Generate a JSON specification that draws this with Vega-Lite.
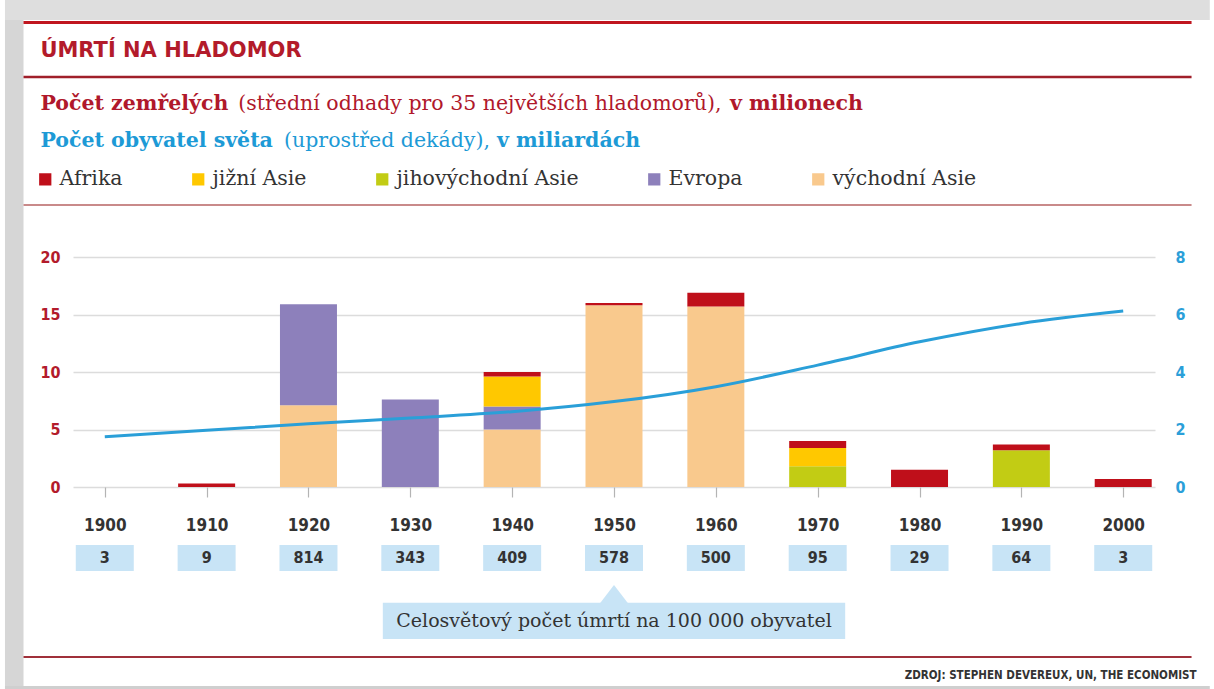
{
  "$schema": "https://vega.github.io/schema/vega-lite/v6.json",
  "width": 1082,
  "height": 230,
  "autosize": {"type": "none"},
  "padding": {"left": 73, "top": 257, "right": 59, "bottom": 202},
  "background": "#ffffff",
  "config": {"view": {"stroke": null}},
  "datasets": {
    "deaths": [
      {"year": 1910, "region": "Afrika", "deaths": 0.3},
      {"year": 1920, "region": "východní Asie", "deaths": 7.1},
      {"year": 1920, "region": "Evropa", "deaths": 8.8},
      {"year": 1930, "region": "Evropa", "deaths": 7.6},
      {"year": 1940, "region": "východní Asie", "deaths": 5.0},
      {"year": 1940, "region": "Evropa", "deaths": 2.0},
      {"year": 1940, "region": "jižní Asie", "deaths": 2.6},
      {"year": 1940, "region": "Afrika", "deaths": 0.4},
      {"year": 1950, "region": "východní Asie", "deaths": 15.8},
      {"year": 1950, "region": "Afrika", "deaths": 0.2},
      {"year": 1960, "region": "východní Asie", "deaths": 15.7},
      {"year": 1960, "region": "Afrika", "deaths": 1.2},
      {"year": 1970, "region": "jihovýchodní Asie", "deaths": 1.8},
      {"year": 1970, "region": "jižní Asie", "deaths": 1.6},
      {"year": 1970, "region": "Afrika", "deaths": 0.6},
      {"year": 1980, "region": "Afrika", "deaths": 1.5},
      {"year": 1990, "region": "jihovýchodní Asie", "deaths": 3.2},
      {"year": 1990, "region": "Afrika", "deaths": 0.5},
      {"year": 2000, "region": "Afrika", "deaths": 0.7}
    ],
    "population": [
      {"year": 1900, "population": 1.75},
      {"year": 1910, "population": 1.97},
      {"year": 1920, "population": 2.2},
      {"year": 1930, "population": 2.4},
      {"year": 1940, "population": 2.62},
      {"year": 1950, "population": 2.97},
      {"year": 1960, "population": 3.49},
      {"year": 1970, "population": 4.24},
      {"year": 1980, "population": 5.05},
      {"year": 1990, "population": 5.69},
      {"year": 2000, "population": 6.12}
    ],
    "rate": [
      {"year": 1900, "rate": 3},
      {"year": 1910, "rate": 9},
      {"year": 1920, "rate": 814},
      {"year": 1930, "rate": 343},
      {"year": 1940, "rate": 409},
      {"year": 1950, "rate": 578},
      {"year": 1960, "rate": 500},
      {"year": 1970, "rate": 95},
      {"year": 1980, "rate": 29},
      {"year": 1990, "rate": 64},
      {"year": 2000, "rate": 3}
    ],
    "one": [{}]
  },
  "layer": [
    {
      "layer": [
        {
          "data": {"name": "one"},
          "mark": {"type": "rect", "color": "#d6d6d6"},
          "encoding": {
            "x": {
              "datum": 1890.2, "type": "quantitative",
              "scale": {"domain": [1897.37, 2002.63], "nice": false, "zero": false},
              "axis": {
                "values": [1900, 1910, 1920, 1930, 1940, 1950, 1960, 1970, 1980, 1990, 2000],
                "format": "d", "title": null, "domain": false, "grid": false,
                "ticks": true, "tickSize": 10, "tickColor": "#b4b4b4", "tickWidth": 1.2,
                "labelFont": "DejaVu Sans Condensed, Liberation Sans Narrow, DejaVu Sans, sans-serif",
                "labelFontSize": 17, "labelFontWeight": "bold", "labelColor": "#333333",
                "labelPadding": 20, "labelFlush": false, "labelOverlap": false
              }
            },
            "x2": {"datum": 1892.02},
            "y": {
              "datum": 42.4, "type": "quantitative",
              "scale": {"domain": [0, 20], "nice": false},
              "axis": {
                "values": [0, 5, 10, 15, 20], "title": null, "domain": false, "ticks": false,
                "grid": true, "gridColor": "#dcdcdc", "gridWidth": 1.5,
                "labelFont": "DejaVu Sans Condensed, Liberation Sans Narrow, DejaVu Sans, sans-serif",
                "labelFontSize": 16, "labelFontWeight": "bold", "labelColor": "#b31b2b", "labelPadding": 13
              }
            },
            "y2": {"datum": -17.6}
          }
        },
        {
          "data": {"name": "one"},
          "mark": {"type": "rect", "color": "#dedede"},
          "encoding": {
            "x": {"datum": 1890.2, "type": "quantitative"},
            "x2": {"datum": 2008.5},
            "y": {"datum": 42.4, "type": "quantitative"},
            "y2": {"datum": 40.6}
          }
        },
        {
          "data": {"name": "one"},
          "mark": {"type": "rect", "color": "#cfcfcf"},
          "encoding": {
            "x": {"datum": 1890.2, "type": "quantitative"},
            "x2": {"datum": 2008.5},
            "y": {"datum": -17.3, "type": "quantitative"},
            "y2": {"datum": -17.6}
          }
        },
        {
          "data": {"name": "one"},
          "mark": {"type": "rule", "color": "#c0161f", "strokeWidth": 3},
          "encoding": {"x": {"datum": 1892.02, "type": "quantitative"}, "x2": {"datum": 2006.71}, "y": {"datum": 40.39, "type": "quantitative"}}
        },
        {
          "data": {"name": "one"},
          "mark": {"type": "rule", "color": "#a01f2a", "strokeWidth": 2.5},
          "encoding": {"x": {"datum": 1892.02, "type": "quantitative"}, "x2": {"datum": 2006.71}, "y": {"datum": 35.65, "type": "quantitative"}}
        },
        {
          "data": {"name": "one"},
          "mark": {"type": "rule", "color": "#c98a8a", "strokeWidth": 2},
          "encoding": {"x": {"datum": 1892.02, "type": "quantitative"}, "x2": {"datum": 2006.71}, "y": {"datum": 24.52, "type": "quantitative"}}
        },
        {
          "data": {"name": "one"},
          "mark": {"type": "rule", "color": "#a0303a", "strokeWidth": 2},
          "encoding": {"x": {"datum": 1892.02, "type": "quantitative"}, "x2": {"datum": 2006.71}, "y": {"datum": -14.78, "type": "quantitative"}}
        },
        {
          "data": {"name": "one"},
          "mark": {"type": "text", "align": "left", "baseline": "alphabetic", "font": "DejaVu Sans", "fontSize": 21, "fontWeight": "bold", "color": "#b31b2b"},
          "encoding": {"x": {"datum": 1893.68, "type": "quantitative"}, "y": {"datum": 37.39, "type": "quantitative"}, "text": {"value": "ÚMRTÍ NA HLADOMOR"}}
        },
        {
          "data": {"name": "one"},
          "mark": {"type": "text", "align": "left", "baseline": "alphabetic", "font": "DejaVu Serif", "fontSize": 20.5, "fontWeight": "bold", "color": "#b0182b"},
          "encoding": {"x": {"datum": 1893.68, "type": "quantitative"}, "y": {"datum": 32.78, "type": "quantitative"}, "text": {"value": "Počet zemřelých"}}
        },
        {
          "data": {"name": "one"},
          "mark": {"type": "text", "align": "left", "baseline": "alphabetic", "font": "DejaVu Serif", "fontSize": 20.5, "color": "#b0182b"},
          "encoding": {"x": {"datum": 1913.1, "type": "quantitative"}, "y": {"datum": 32.78, "type": "quantitative"}, "text": {"value": "(střední odhady pro 35 největších hladomorů),"}}
        },
        {
          "data": {"name": "one"},
          "mark": {"type": "text", "align": "left", "baseline": "alphabetic", "font": "DejaVu Serif", "fontSize": 20.5, "fontWeight": "bold", "color": "#b0182b"},
          "encoding": {"x": {"datum": 1961.38, "type": "quantitative"}, "y": {"datum": 32.78, "type": "quantitative"}, "text": {"value": "v milionech"}}
        },
        {
          "data": {"name": "one"},
          "mark": {"type": "text", "align": "left", "baseline": "alphabetic", "font": "DejaVu Serif", "fontSize": 20.5, "fontWeight": "bold", "color": "#1d9ad6"},
          "encoding": {"x": {"datum": 1893.68, "type": "quantitative"}, "y": {"datum": 29.57, "type": "quantitative"}, "text": {"value": "Počet obyvatel světa"}}
        },
        {
          "data": {"name": "one"},
          "mark": {"type": "text", "align": "left", "baseline": "alphabetic", "font": "DejaVu Serif", "fontSize": 20.5, "color": "#1d9ad6"},
          "encoding": {"x": {"datum": 1917.6, "type": "quantitative"}, "y": {"datum": 29.57, "type": "quantitative"}, "text": {"value": "(uprostřed dekády),"}}
        },
        {
          "data": {"name": "one"},
          "mark": {"type": "text", "align": "left", "baseline": "alphabetic", "font": "DejaVu Serif", "fontSize": 20.5, "fontWeight": "bold", "color": "#1d9ad6"},
          "encoding": {"x": {"datum": 1938.5, "type": "quantitative"}, "y": {"datum": 29.57, "type": "quantitative"}, "text": {"value": "v miliardách"}}
        },
        {
          "data": {"name": "deaths"},
          "mark": {"type": "bar", "size": 57},
          "encoding": {
            "x": {"field": "year", "type": "quantitative"},
            "y": {"field": "deaths", "type": "quantitative", "stack": "zero"},
            "color": {
              "field": "region", "type": "nominal",
              "scale": {
                "domain": ["Afrika", "jižní Asie", "jihovýchodní Asie", "Evropa", "východní Asie"],
                "range": ["#bf0f1a", "#ffc800", "#c2cc14", "#8d80bb", "#f9c98d"]
              },
              "legend": {
                "orient": "none", "legendX": -38, "legendY": -88, "direction": "horizontal",
                "title": null, "symbolType": "square", "symbolSize": 150, "symbolStrokeWidth": 0,
                "symbolOpacity": 1, "padding": 0,
                "labelFont": "DejaVu Serif", "labelFontSize": 20.5, "labelColor": "#333333",
                "labelOffset": 4, "columnPadding": 65, "labelLimit": 400
              }
            },
            "order": {"field": "year", "type": "quantitative"}
          }
        },
        {
          "data": {"name": "rate"},
          "mark": {"type": "bar", "size": 58, "color": "#c8e4f6"},
          "encoding": {
            "x": {"field": "year", "type": "quantitative"},
            "y": {"datum": -5.04, "type": "quantitative"},
            "y2": {"datum": -7.3}
          }
        },
        {
          "data": {"name": "rate"},
          "mark": {"type": "text", "baseline": "middle", "align": "center", "font": "DejaVu Sans Condensed, Liberation Sans Narrow, DejaVu Sans, sans-serif", "fontSize": 16, "fontWeight": "bold", "color": "#333333"},
          "encoding": {
            "x": {"field": "year", "type": "quantitative"},
            "y": {"datum": -6.17, "type": "quantitative"},
            "text": {"field": "rate", "type": "quantitative"}
          }
        },
        {
          "data": {"name": "one"},
          "mark": {"type": "rect", "color": "#c8e4f6"},
          "encoding": {
            "x": {"datum": 1927.3, "type": "quantitative"},
            "x2": {"datum": 1972.7},
            "y": {"datum": -10.06, "type": "quantitative"},
            "y2": {"datum": -13.22}
          }
        },
        {
          "data": {"name": "one"},
          "mark": {"type": "point", "shape": "M-1,0L0,-1.3L1,0Z", "filled": true, "size": 784, "color": "#c8e4f6", "opacity": 1},
          "encoding": {
            "x": {"datum": 1950, "type": "quantitative"},
            "y": {"datum": -10.1, "type": "quantitative"}
          }
        },
        {
          "data": {"name": "one"},
          "mark": {"type": "text", "baseline": "middle", "align": "center", "font": "DejaVu Serif", "fontSize": 19, "color": "#333333"},
          "encoding": {
            "x": {"datum": 1950, "type": "quantitative"},
            "y": {"datum": -11.65, "type": "quantitative"},
            "text": {"value": "Celosvětový počet úmrtí na 100 000 obyvatel"}
          }
        },
        {
          "data": {"name": "one"},
          "mark": {"type": "text", "baseline": "middle", "align": "right", "font": "DejaVu Sans Condensed, Liberation Sans Narrow, DejaVu Sans, sans-serif", "fontSize": 11.5, "fontWeight": "bold", "color": "#333333"},
          "encoding": {
            "x": {"datum": 2007.2, "type": "quantitative"},
            "y": {"datum": -16.45, "type": "quantitative"},
            "text": {"value": "ZDROJ: STEPHEN DEVEREUX, UN, THE ECONOMIST"}
          }
        }
      ]
    },
    {
      "data": {"name": "population"},
      "mark": {"type": "line", "color": "#2a9fd8", "strokeWidth": 3, "interpolate": "monotone"},
      "encoding": {
        "x": {"field": "year", "type": "quantitative", "scale": {"domain": [1897.37, 2002.63], "nice": false, "zero": false}},
        "y": {
          "field": "population", "type": "quantitative",
          "scale": {"domain": [0, 8], "nice": false},
          "axis": {
            "orient": "right", "values": [0, 2, 4, 6, 8], "title": null, "domain": false, "ticks": false, "grid": false,
            "labelFont": "DejaVu Sans Condensed, Liberation Sans Narrow, DejaVu Sans, sans-serif",
            "labelFontSize": 16, "labelFontWeight": "bold", "labelColor": "#2b9fd9", "labelPadding": 20
          }
        }
      }
    }
  ],
  "resolve": {"scale": {"y": "independent"}}
}
